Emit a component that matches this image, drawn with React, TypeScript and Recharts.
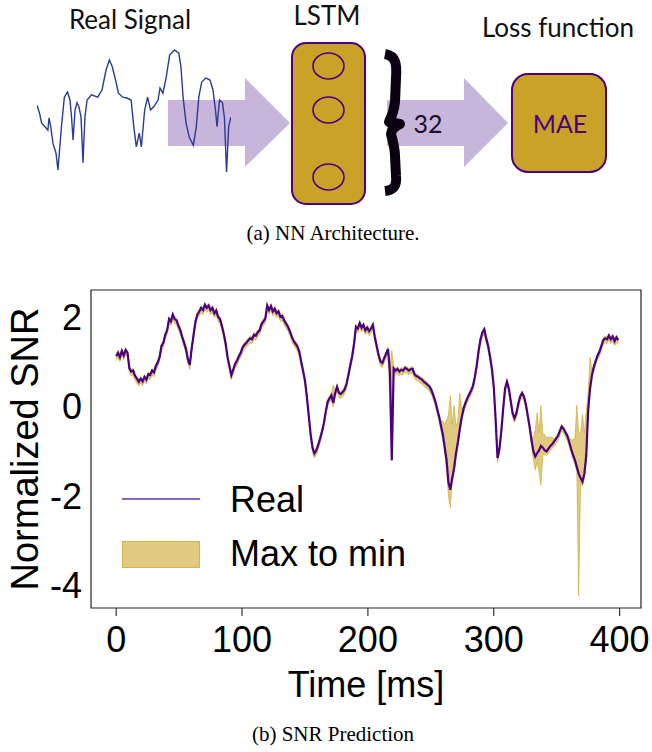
import React from "react";
import {
  ComposedChart,
  LineChart,
  Line,
  Area,
  XAxis,
  YAxis,
  ReferenceArea,
  Legend,
} from "recharts";

// SNR trace, one value every 1.5 ms (0 .. 399 ms)
const STEP_MS = 1.5;
const realSnr = [
  1.12, 1.2, 1.1, 1.24, 1.14, 1.26, 1.2, 0.85, 0.78, 0.8,
  0.68, 0.62, 0.55, 0.62, 0.56, 0.66, 0.6, 0.72, 0.7, 0.8,
  0.76, 0.9, 0.98, 1.1, 1.35, 1.42, 1.6, 1.7, 1.95, 1.9,
  2.05, 1.95, 1.92, 1.8, 1.7, 1.55, 1.42, 1.28, 1.05, 0.93,
  1.3, 1.6, 1.9, 2.05, 2.12, 2.2, 2.15, 2.27, 2.2, 2.25,
  2.15, 2.2, 2.08, 2.14, 2.0, 1.95, 1.8, 1.62, 1.4, 1.1,
  0.9, 0.7, 0.82, 0.95, 1.02, 1.12, 1.2, 1.32, 1.38, 1.42,
  1.48, 1.52, 1.5, 1.6, 1.58, 1.66, 1.7, 1.84, 1.9, 1.96,
  2.25, 2.15, 2.24, 2.12, 2.18, 2.08, 2.12, 2.0, 2.02, 1.92,
  1.85, 1.78, 1.68, 1.56, 1.46, 1.4, 1.34, 1.22, 1.0, 0.8,
  0.58, 0.22, -0.2, -0.62, -0.92, -1.05, -0.98, -0.86, -0.72, -0.56,
  -0.38, -0.12, 0.1, 0.18, 0.25, 0.08, 0.3, 0.44, 0.3, 0.28,
  0.32, 0.38, 0.5, 0.7, 0.92, 1.12, 1.4, 1.78, 1.74, 1.86,
  1.76, 1.82, 1.7, 1.76, 1.68, 1.74, 1.82, 1.55, 1.35, 1.15,
  1.0, 0.97, 1.08, 1.18, 1.28, 0.78, -1.2, 0.85, 0.8, 0.84,
  0.78, 0.82, 0.8, 0.86, 0.84, 0.8, 0.83, 0.84, 0.72, 0.68,
  0.66, 0.62, 0.6, 0.55, 0.52, 0.48, 0.44, 0.36, 0.25, 0.12,
  -0.05, -0.22, -0.42, -0.62, -0.9, -1.2, -1.7, -1.86, -1.6, -1.38,
  -1.05, -0.8, -0.5, -0.25, -0.05, 0.08, 0.18, 0.27, 0.35, 0.46,
  0.66, 0.92, 1.25, 1.5, 1.65, 1.72, 1.52, 1.36, 1.12, 0.85,
  0.45, -0.3, -1.15, -0.95, -0.55, -0.05, 0.4, 0.55, 0.4, 0.12,
  -0.15, -0.26, -0.15, 0.06, 0.22, 0.3, 0.22, 0.05, -0.2, -0.45,
  -0.75, -1.0, -1.12, -1.04, -0.98, -0.88, -0.92, -0.98, -1.0, -0.94,
  -0.88, -0.84, -0.78, -0.72, -0.66, -0.55, -0.45, -0.5, -0.58, -0.66,
  -0.8, -0.95, -1.08, -1.2, -1.35, -1.5, -1.6, -1.68, -1.5, -1.1,
  -0.1, 0.4, 0.7, 0.88, 1.02, 1.14, 1.22, 1.35, 1.48, 1.52,
  1.5, 1.58, 1.5, 1.56, 1.46, 1.54, 1.48,
];

// how far the predictions' max reaches above the real trace
const bandAbove = [
  0.05, 0.05, 0.05, 0.05, 0.05, 0.05, 0.05, 0.05, 0.05, 0.05,
  0.05, 0.05, 0.05, 0.05, 0.05, 0.05, 0.05, 0.05, 0.05, 0.05,
  0.05, 0.05, 0.05, 0.05, 0.05, 0.05, 0.05, 0.05, 0.05, 0.05,
  0.05, 0.05, 0.05, 0.05, 0.05, 0.05, 0.05, 0.05, 0.05, 0.05,
  0.05, 0.05, 0.05, 0.05, 0.05, 0.05, 0.05, 0.05, 0.05, 0.05,
  0.05, 0.05, 0.05, 0.05, 0.05, 0.05, 0.05, 0.05, 0.05, 0.05,
  0.05, 0.05, 0.05, 0.05, 0.05, 0.05, 0.05, 0.05, 0.05, 0.05,
  0.05, 0.05, 0.05, 0.05, 0.05, 0.05, 0.05, 0.05, 0.05, 0.05,
  0.05, 0.05, 0.05, 0.05, 0.05, 0.05, 0.05, 0.05, 0.05, 0.05,
  0.05, 0.05, 0.05, 0.05, 0.05, 0.05, 0.05, 0.05, 0.05, 0.05,
  0.05, 0.05, 0.05, 0.05, 0.05, 0.05, 0.05, 0.05, 0.05, 0.05,
  0.05, 0.05, 0.05, 0.05, 0.05, 0.4, 0.05, 0.05, 0.05, 0.05,
  0.05, 0.05, 0.05, 0.05, 0.05, 0.05, 0.05, 0.05, 0.05, 0.05,
  0.05, 0.05, 0.05, 0.05, 0.05, 0.05, 0.05, 0.05, 0.05, 0.05,
  0.05, 0.05, 0.05, 0.05, 0.05, 0.1, 2.45, 0.05, 0.05, 0.05,
  0.05, 0.05, 0.05, 0.05, 0.05, 0.05, 0.05, 0.05, 0.05, 0.05,
  0.05, 0.05, 0.05, 0.05, 0.05, 0.05, 0.05, 0.05, 0.05, 0.05,
  0.05, 0.05, 0.1, 0.3, 0.5, 0.9, 1.5, 2.1, 1.2, 1.4,
  0.6, 0.5, 0.8, 0.2, 0.05, 0.05, 0.05, 0.05, 0.05, 0.05,
  0.05, 0.05, 0.05, 0.05, 0.05, 0.05, 0.05, 0.05, 0.05, 0.05,
  0.05, 0.05, 0.05, 0.05, 0.05, 0.05, 0.05, 0.05, 0.05, 0.05,
  0.05, 0.05, 0.05, 0.05, 0.05, 0.05, 0.05, 0.05, 0.05, 0.05,
  0.1, 0.3, 0.6, 0.9, 0.4, 0.9, 0.3, 0.35, 0.3, 0.25,
  0.2, 0.15, 0.05, 0.05, 0.05, 0.05, 0.05, 0.05, 0.05, 0.05,
  0.1, 0.2, 0.35, 0.5, 1.38, 0.9, 1.0, 1.5, 0.9, 1.0,
  0.4, 0.7, 0.1, 0.05, 0.05, 0.05, 0.05, 0.05, 0.05, 0.05,
  0.05, 0.05, 0.05, 0.05, 0.05, 0.05, 0.05,
];

// how far the predictions' min drops below the real trace
const bandBelow = [
  0.1, 0.1, 0.1, 0.1, 0.1, 0.1, 0.1, 0.1, 0.1, 0.1,
  0.1, 0.1, 0.1, 0.1, 0.1, 0.1, 0.1, 0.1, 0.1, 0.1,
  0.1, 0.1, 0.1, 0.1, 0.1, 0.1, 0.1, 0.1, 0.1, 0.1,
  0.1, 0.1, 0.1, 0.1, 0.1, 0.1, 0.1, 0.1, 0.1, 0.1,
  0.1, 0.1, 0.1, 0.1, 0.1, 0.1, 0.1, 0.1, 0.1, 0.1,
  0.1, 0.1, 0.1, 0.1, 0.1, 0.1, 0.1, 0.1, 0.1, 0.1,
  0.1, 0.1, 0.1, 0.1, 0.1, 0.1, 0.1, 0.1, 0.1, 0.1,
  0.1, 0.1, 0.1, 0.1, 0.1, 0.1, 0.1, 0.1, 0.1, 0.1,
  0.1, 0.1, 0.1, 0.1, 0.1, 0.1, 0.1, 0.1, 0.1, 0.1,
  0.1, 0.1, 0.1, 0.1, 0.1, 0.1, 0.1, 0.1, 0.1, 0.1,
  0.1, 0.1, 0.1, 0.1, 0.1, 0.1, 0.1, 0.1, 0.1, 0.1,
  0.1, 0.1, 0.1, 0.1, 0.1, 0.1, 0.1, 0.1, 0.1, 0.1,
  0.1, 0.1, 0.1, 0.1, 0.1, 0.1, 0.1, 0.1, 0.1, 0.1,
  0.1, 0.1, 0.1, 0.1, 0.1, 0.1, 0.1, 0.1, 0.1, 0.1,
  0.1, 0.1, 0.1, 0.1, 0.1, 0.75, 0.02, 0.1, 0.1, 0.1,
  0.1, 0.1, 0.1, 0.1, 0.1, 0.1, 0.1, 0.1, 0.1, 0.1,
  0.1, 0.1, 0.1, 0.1, 0.1, 0.1, 0.1, 0.1, 0.1, 0.1,
  0.1, 0.1, 0.12, 0.12, 0.15, 0.2, 0.3, 0.4, 0.1, 0.1,
  0.1, 0.1, 0.1, 0.1, 0.1, 0.1, 0.1, 0.1, 0.1, 0.1,
  0.1, 0.1, 0.1, 0.1, 0.1, 0.1, 0.1, 0.1, 0.1, 0.1,
  0.1, 0.1, 0.1, 0.1, 0.1, 0.1, 0.1, 0.1, 0.1, 0.1,
  0.1, 0.1, 0.1, 0.1, 0.1, 0.1, 0.1, 0.1, 0.1, 0.1,
  0.12, 0.2, 0.3, 0.2, 0.5, 0.88, 0.15, 0.1, 0.1, 0.1,
  0.1, 0.1, 0.1, 0.1, 0.1, 0.1, 0.1, 0.1, 0.1, 0.1,
  0.1, 0.1, 0.1, 0.1, 0.1, 2.72, 0.1, 0.1, 0.1, 0.1,
  0.1, 0.1, 0.1, 0.1, 0.1, 0.1, 0.1, 0.1, 0.1, 0.1,
  0.1, 0.1, 0.1, 0.1, 0.1, 0.1, 0.1,
];

const timeTicks = [0, 100, 200, 300, 400];
const snrTicks = [-4, -2, 0, 2];

// small input signal drawn in the architecture sketch
const signalIdx = [
  0, 1.3, 2.4, 4.1, 5.6, 6.2, 7.1, 8.2, 9.8, 10.8,
  12.6, 14.1, 15.7, 17, 17.8, 18.6, 19.6, 20.6, 21.6, 22.7,
  23.7, 24.7, 25.8, 28.1, 31.3, 33.5, 35.6, 37.3, 38.8, 40.5,
  42, 44.2, 46.3, 48.5, 49.9, 51.2, 52.7, 53.8, 55.5, 57,
  58.5, 60.2, 62.4, 63.4, 64.9, 66.6, 68.4, 70.9, 73.1, 74.2,
  75.3, 76.8, 78.5, 80.6, 82.1, 83.4, 84.9, 87, 89.2, 90.7,
  92, 92.8, 94.1, 95.6, 96.6, 97.7, 98.8, 99.9,
];
const signalLevel = [
  0.12, -0.08, -0.33, -0.42, -0.5, -0.2, -0.42, -0.83, -1.08, -1.5,
  -0.42, 0.32, 0.45, 0.25, -0.18, -0.75, 0, 0.18, 0.08, -0.18,
  -1.32, -0.18, 0.25, 0.38, 0.32, 0.5, 1.0, 1.25, 1.08, 0.75,
  0.42, 0.32, 0.3, 0.25, -0.42, -0.92, -0.58, -0.92, 0, 0.32,
  0, 0.08, 0.25, 0.55, 0.42, 0.82, 1.38, 1.5, 1.42, 1.08,
  0.32, -0.32, -0.68, -0.88, -0.42, 0.32, 0.7, 0.8, 0.75, 0.5,
  0, -0.42, 0.25, 0.18, -0.18, -1.55, -0.42, -0.18,
];

const snrData = realSnr.map((v, i) => ({
  t: i * STEP_MS,
  real: v,
  range: [v - bandBelow[i], v + bandAbove[i]],
}));

const signalData = signalIdx.map((x, i) => ({ x, y: signalLevel[i] }));

const SANS = "'Liberation Sans', Arial, Helvetica, sans-serif";
const SERIF = "'Liberation Serif', 'Times New Roman', serif";
const CALIBRI = "Lato, 'Open Sans', sans-serif";
const PURPLE = "#4b0082";
const GOLD = "#cba72b";
const LAVENDER = "#c8b5dc";

function renderLegend() {
  return (
    <div style={{ position: "relative", width: 320, height: 100, fontFamily: SANS, color: "#000" }}>
      <svg width={80} height={6} style={{ position: "absolute", left: 3, top: 16 }}>
        <line x1={0} y1={3} x2={78} y2={3} stroke="#6a2fa8" strokeWidth={1.3} />
      </svg>
      <span style={{ position: "absolute", left: 111, top: 0, fontSize: 36, lineHeight: "40px" }}>Real</span>
      <svg width={80} height={28} style={{ position: "absolute", left: 3, top: 61 }}>
        <rect x={0.5} y={0.5} width={77} height={26} fill={GOLD} fillOpacity={0.6} stroke={GOLD} strokeOpacity={0.8} />
      </svg>
      <span style={{ position: "absolute", left: 111, top: 54, fontSize: 36, lineHeight: "40px" }}>Max to min</span>
    </div>
  );
}

function Diagram() {
  return (
    <svg width={652} height={752} style={{ position: "absolute", left: 0, top: 0 }}>
      <g fontFamily={CALIBRI} fill="#111">
        <text x={130} y={29} fontSize={26} textAnchor="middle">Real Signal</text>
        <text x={327} y={25} fontSize={26} textAnchor="middle">LSTM</text>
        <text x={558} y={37} fontSize={26} textAnchor="middle">Loss function</text>
      </g>
      <polygon points="168,100 245,100 245,78 290,123 245,167 245,146 168,146" fill={LAVENDER} />
      <polygon points="387,100 464,100 464,78 508,123 464,167 464,146 387,146" fill={LAVENDER} />
      <rect x={292} y={43} width={73} height={161} rx={14} fill="#c9a227" stroke={PURPLE} strokeWidth={2} />
      {[66, 110, 177].map((cy) => (
        <ellipse key={cy} cx={328.5} cy={cy} rx={15.5} ry={13} fill="none" stroke={PURPLE} strokeWidth={1.6} />
      ))}
      <path
        d="M385 54 C396 56 397 64 396 78 L395 102 C394 112 391 118 389 122 C394 123 398 123 400 124 C396 126 392 128 391 134 C393 142 395 148 395 156 L396 176 C397 186 394 190 385 191"
        fill="none"
        stroke="#0a0010"
        strokeWidth={10}
        strokeLinecap="butt"
        strokeLinejoin="round"
      />
      <text x={428} y={133} fontSize={25} textAnchor="middle" fontFamily={CALIBRI} fill="#1e0f2a">32</text>
      <rect x={512} y={74} width={94} height={98} rx={16} fill="#c9a227" stroke={PURPLE} strokeWidth={2} />
      <text x={560} y={133} fontSize={25} textAnchor="middle" fontFamily={CALIBRI} fill={PURPLE}>MAE</text>
      <text x={333} y={240} fontSize={21} textAnchor="middle" fontFamily={SERIF} fill="#000">(a) NN Architecture.</text>

      <text
        x={38}
        y={449}
        fontSize={38}
        textAnchor="middle"
        fontFamily={SANS}
        transform="rotate(-90 38 449)"
        fill="#000"
      >
        Normalized SNR
      </text>
      <text x={366} y={697} fontSize={36} textAnchor="middle" fontFamily={SANS} fill="#000">Time [ms]</text>
      <text x={333} y={741} fontSize={21} textAnchor="middle" fontFamily={SERIF} fill="#000">(b) SNR Prediction</text>
    </svg>
  );
}

export default function App() {
  return (
    <div style={{ position: "absolute", left: 0, top: 0, width: 652, height: 752, background: "#fff", overflow: "hidden" }}>
      <Diagram />
      <div style={{ position: "absolute", left: 37, top: 48 }}>
        <LineChart width={194} height={124} data={signalData} margin={{ top: 0, right: 0, bottom: 0, left: 0 }}>
          <XAxis dataKey="x" type="number" domain={[0, 100]} hide />
          <YAxis type="number" domain={[-1.55, 1.55]} hide />
          <Line type="linear" dataKey="y" stroke="#2b3a94" strokeWidth={1.4} dot={false} isAnimationActive={false} />
        </LineChart>
      </div>
      <div style={{ position: "absolute", left: 0, top: 0 }}>
        <ComposedChart width={652} height={752} data={snrData} margin={{ top: 290, right: 11, bottom: 0, left: 0 }}>
          <XAxis
            dataKey="t"
            type="number"
            domain={[-20, 417]}
            ticks={timeTicks}
            allowDataOverflow
            axisLine={false}
            tickSize={8}
            tickMargin={10}
            tickLine={{ stroke: "#333", strokeWidth: 1.2 }}
            tick={{ fontSize: 36, fill: "#000", fontFamily: SANS }}
            height={144}
          />
          <YAxis
            type="number"
            domain={[-4.5, 2.6]}
            ticks={snrTicks}
            allowDataOverflow
            axisLine={false}
            tickLine={false}
            tickSize={4}
            tickMargin={5}
            tick={{ fontSize: 36, fill: "#000", fontFamily: SANS }}
            width={91}
          />
          <Area
            type="linear"
            dataKey="range"
            fill={GOLD}
            fillOpacity={0.6}
            stroke={GOLD}
            strokeOpacity={0.6}
            strokeWidth={1}
            isAnimationActive={false}
          />
          <Line
            type="linear"
            dataKey="real"
            stroke={PURPLE}
            strokeWidth={2.2}
            dot={false}
            isAnimationActive={false}
          />
          <ReferenceArea x1={-20} x2={417} y1={-4.5} y2={2.6} fill="none" stroke="#222" strokeWidth={1.2} />
          <Legend
            layout="horizontal"
            verticalAlign="middle"
            align="center"
            content={renderLegend}
            wrapperStyle={{ left: 119, top: 480, width: 320, height: 100 }}
          />
        </ComposedChart>
      </div>
    </div>
  );
}
